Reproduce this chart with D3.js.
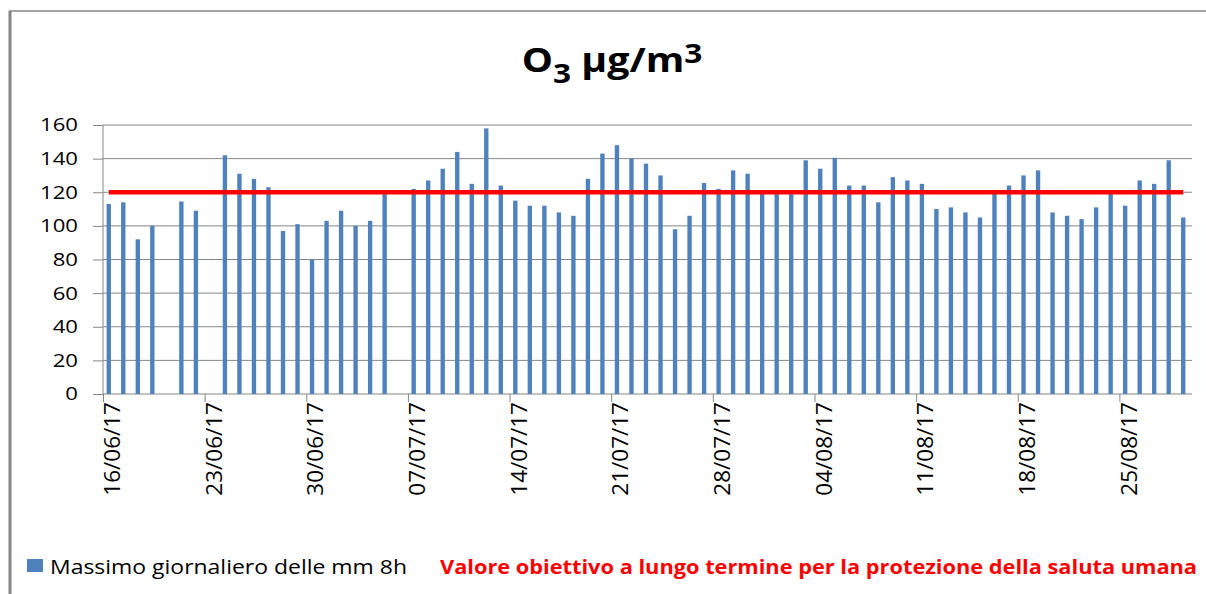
<!DOCTYPE html>
<html>
<head>
<meta charset="utf-8">
<title>O3 µg/m3</title>
<script src="https://d3js.org/d3.v7.min.js"></script>
<style>
    body { margin: 0; background: white; }
    svg { display: block; font-family: "Open Sans", sans-serif; }
</style>
</head>
<body>
<svg id="chart" width="1206" height="594"></svg>
<script>
// data
const startDate = new Date(2017, 5, 16);
const endDate = new Date(2017, 7, 30);   // exclusive, last day 29/08/17
const dates = d3.timeDay.range(startDate, endDate);

// Massimo giornaliero delle medie mobili 8h (null = no data)
const o3Values = [
    113, 114, 92, 100, null, 114.5, 109, null, 142, 131,
    128, 123, 97, 101, 80, 103, 109, 100, 103, 119,
    null, 122, 127, 134, 144, 125, 158, 124, 115, 112,
    112, 108, 106, 128, 143, 148, 140, 137, 130, 98,
    106, 125.5, 122, 133, 131, 120, 119, 120, 139, 134,
    140.5, 124, 124, 114, 129, 127, 125, 110, 111, 108,
    105, 119, 124, 130, 133, 108, 106, 104, 111, 119,
    112, 127, 125, 139, 105
];
const limitValue = 120;
const yTicks = [0, 20, 40, 60, 80, 100, 120, 140, 160];
const seriesNames = [
    "Massimo giornaliero delle mm 8h",
    "Valore obiettivo a lungo termine per la protezione della saluta umana"
];

const barColor = "#4F81BD";
const limitColor = "#FF0000";
const gridColor = "#868686";
const sx = 1.19; // horizontal stretch of the original picture's text

const plot = { left: 103, right: 1192, top: 125, bottom: 394 };
const svg = d3.select("#chart");

// chart frame
svg.append("line").attr("x1", 9).attr("x2", 1206).attr("y1", 11).attr("y2", 11)
    .attr("stroke", gridColor).attr("stroke-width", 1.3);
svg.append("line").attr("x1", 10).attr("x2", 10).attr("y1", 11).attr("y2", 594)
    .attr("stroke", gridColor).attr("stroke-width", 3);

// scales
const x = d3.scaleBand()
    .domain(dates)
    .range([plot.left - 1.5, plot.right - 1.5])
    .paddingInner(0.7)
    .paddingOuter(0.35);

const xDay = d3.scaleLinear()
    .domain([0, dates.length])
    .range([plot.left, plot.right]);

const y = d3.scaleLinear()
    .domain([0, 160])
    .range([plot.bottom, plot.top]);

// gridlines
svg.append("g").selectAll("line")
    .data(yTicks)
    .enter().append("line")
    .attr("x1", plot.left).attr("x2", plot.right)
    .attr("y1", d => y(d)).attr("y2", d => y(d))
    .attr("stroke", gridColor).attr("stroke-width", 1);

// y axis
const yAxis = svg.append("g")
    .attr("transform", "translate(" + plot.left + ",0)")
    .call(d3.axisLeft(y).tickValues(yTicks).tickSize(10));
yAxis.attr("font-family", null).attr("font-size", 18.6);
yAxis.select(".domain").attr("stroke", gridColor).attr("d", "M0," + y(0) + "V" + y(160));
yAxis.selectAll(".tick line").attr("stroke", gridColor);
yAxis.selectAll(".tick text")
    .attr("fill", "#000")
    .attr("x", -25 / sx)
    .attr("transform", "scale(" + sx + ",1)");

// x tick marks (weekly)
const weekIdx = dates.map((d, i) => i).filter(i => i % 7 === 0);
const xAxis = svg.append("g")
    .attr("transform", "translate(0," + plot.bottom + ")")
    .call(d3.axisBottom(xDay).tickValues(weekIdx).tickSize(8).tickFormat(""));
xAxis.select(".domain").remove();
xAxis.selectAll(".tick line").attr("stroke", gridColor);

// x labels
const fmt = d3.timeFormat("%d/%m/%y");
svg.append("g").selectAll("text")
    .data(weekIdx.map(i => dates[i]))
    .enter().append("text")
    .attr("transform", d => "translate(" + (x(d) + x.bandwidth() / 2 + 3.5) + "," + (plot.bottom + 8) + ") rotate(-90)")
    .attr("text-anchor", "end")
    .attr("dy", "0.35em")
    .attr("font-size", 22.5)
    .attr("fill", "#000")
    .text(d => fmt(d));

// bars
svg.append("g").selectAll("rect")
    .data(dates.map((d, i) => ({ date: d, value: o3Values[i] })).filter(d => d.value !== null))
    .enter().append("rect")
    .attr("x", d => x(d.date))
    .attr("y", d => y(d.value))
    .attr("width", x.bandwidth())
    .attr("height", d => y(0) - y(d.value))
    .attr("fill", barColor);

// limit line
const limitLine = d3.line()
    .x(d => x(d) + x.bandwidth() / 2)
    .y(() => y(limitValue));
svg.append("path")
    .datum([dates[0], dates[dates.length - 1]])
    .attr("d", limitLine)
    .attr("fill", "none")
    .attr("stroke", limitColor)
    .attr("stroke-width", 4.7);

// title
const title = svg.append("text")
    .attr("transform", "translate(612,72) scale(1.17,1)")
    .attr("text-anchor", "middle")
    .attr("font-size", 33.6)
    .attr("font-weight", "bold")
    .attr("fill", "#000");
title.append("tspan").text("O");
title.append("tspan").attr("font-size", 27).attr("dy", 11).text("3");
title.append("tspan").attr("dy", -11).text(" µg/m");
title.append("tspan").attr("font-size", 27).attr("dy", -9).text("3");

// legend
svg.append("rect").attr("x", 27).attr("y", 559).attr("width", 16).attr("height", 13).attr("fill", barColor);
svg.append("text")
    .attr("x", 50).attr("y", 574)
    .attr("font-size", 19.6)
    .attr("fill", "#000")
    .attr("textLength", 357)
    .attr("lengthAdjust", "spacingAndGlyphs")
    .text(seriesNames[0]);
svg.append("text")
    .attr("x", 440).attr("y", 574)
    .attr("font-size", 19.6)
    .attr("font-weight", "bold")
    .attr("fill", limitColor)
    .attr("textLength", 757)
    .attr("lengthAdjust", "spacingAndGlyphs")
    .text(seriesNames[1]);
</script>
</body>
</html>
